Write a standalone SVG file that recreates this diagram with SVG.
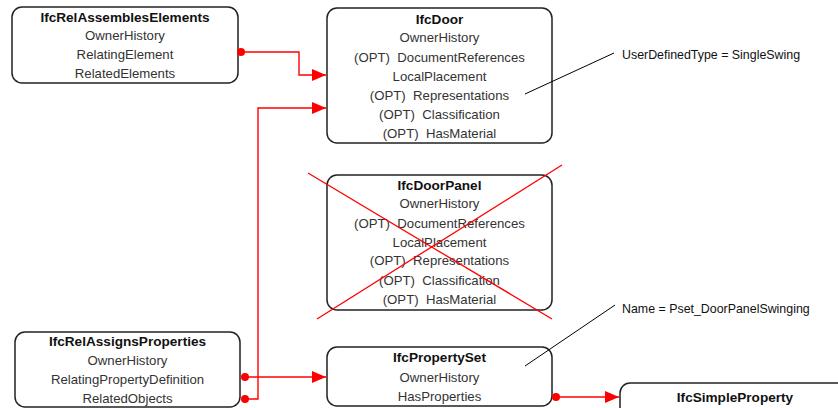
<svg xmlns="http://www.w3.org/2000/svg" width="838" height="408" viewBox="0 0 838 408">
<defs>
<style>
.box{fill:#fff;stroke:#222;stroke-width:1.5}
.t{font-family:"Liberation Sans",Arial,sans-serif;font-size:13.6px;font-weight:bold;fill:#111;text-anchor:middle}
.a{font-family:"Liberation Sans",Arial,sans-serif;font-size:13.2px;fill:#333;text-anchor:middle;white-space:pre}
.n{font-family:"Liberation Sans",Arial,sans-serif;font-size:12.4px;fill:#111}
.c{fill:none;stroke:#f00;stroke-width:1.4}
.l{fill:none;stroke:#000;stroke-width:1}
.x{stroke:#f00;stroke-width:1.3}
</style>
<marker id="arr" markerWidth="14" markerHeight="12" refX="14" refY="6" orient="auto" markerUnits="userSpaceOnUse">
<path d="M0,0 L14,6 L0,12 Z" fill="#f00"/>
</marker>
<marker id="dot" markerWidth="10" markerHeight="10" refX="5" refY="5" markerUnits="userSpaceOnUse">
<circle cx="5" cy="5" r="4" fill="#f00"/>
</marker>
</defs>

<g id="IfcRelAssemblesElements">
<rect class="box" x="12" y="7" width="226" height="76" rx="10"/>
<text class="t" x="125" y="22">IfcRelAssemblesElements</text>
<text class="a" x="125" y="40">OwnerHistory</text>
<text class="a" x="125" y="59">RelatingElement</text>
<text class="a" x="125" y="78">RelatedElements</text>
</g>

<g id="IfcDoor">
<rect class="box" x="327" y="8" width="225" height="135" rx="10"/>
<text class="t" x="439.5" y="24">IfcDoor</text>
<text class="a" x="439.5" y="42">OwnerHistory</text>
<text class="a" x="439.5" y="62" xml:space="preserve">(OPT)  DocumentReferences</text>
<text class="a" x="439.5" y="81">LocalPlacement</text>
<text class="a" x="439.5" y="100" xml:space="preserve">(OPT)  Representations</text>
<text class="a" x="439.5" y="119" xml:space="preserve">(OPT)  Classification</text>
<text class="a" x="439.5" y="138" xml:space="preserve">(OPT)  HasMaterial</text>
</g>

<g id="IfcDoorPanel">
<rect class="box" x="327" y="175" width="225" height="135" rx="10"/>
<text class="t" x="439.5" y="190">IfcDoorPanel</text>
<text class="a" x="439.5" y="208">OwnerHistory</text>
<text class="a" x="439.5" y="228" xml:space="preserve">(OPT)  DocumentReferences</text>
<text class="a" x="439.5" y="247">LocalPlacement</text>
<text class="a" x="439.5" y="265" xml:space="preserve">(OPT)  Representations</text>
<text class="a" x="439.5" y="285" xml:space="preserve">(OPT)  Classification</text>
<text class="a" x="439.5" y="304" xml:space="preserve">(OPT)  HasMaterial</text>
<line class="x" x1="308" y1="173" x2="552" y2="319"/>
<line class="x" x1="562" y1="165" x2="317" y2="319"/>
</g>

<g id="IfcRelAssignsProperties">
<rect class="box" x="15" y="332" width="225" height="75" rx="10"/>
<text class="t" x="127.5" y="346">IfcRelAssignsProperties</text>
<text class="a" x="127.5" y="365">OwnerHistory</text>
<text class="a" x="127.5" y="384">RelatingPropertyDefinition</text>
<text class="a" x="127.5" y="403">RelatedObjects</text>
</g>

<g id="IfcPropertySet">
<rect class="box" x="327" y="347" width="225" height="59" rx="10"/>
<text class="t" x="439.5" y="362">IfcPropertySet</text>
<text class="a" x="439.5" y="382">OwnerHistory</text>
<text class="a" x="439.5" y="401">HasProperties</text>
</g>

<g id="IfcSimpleProperty">
<rect class="box" x="620" y="383" width="228" height="40" rx="10"/>
<text class="t" x="735" y="402">IfcSimpleProperty</text>
</g>

<g id="notes">
<line class="l" x1="525" y1="94" x2="614" y2="53"/>
<text class="n" x="622" y="59">UserDefinedType = SingleSwing</text>
<line class="l" x1="525" y1="366" x2="615" y2="305"/>
<text class="n" x="622" y="313">Name = Pset_DoorPanelSwinging</text>
</g>

<g id="connectors">
<polyline class="c" points="241,52 299,52 299,75 326,75" marker-start="url(#dot)" marker-end="url(#arr)"/>
<polyline class="c" points="245,399 258,399 258,108 326,108" marker-start="url(#dot)" marker-end="url(#arr)"/>
<polyline class="c" points="245,377 326,377" marker-start="url(#dot)" marker-end="url(#arr)"/>
<polyline class="c" points="556,397 619,397" marker-start="url(#dot)" marker-end="url(#arr)"/>
</g>
</svg>
